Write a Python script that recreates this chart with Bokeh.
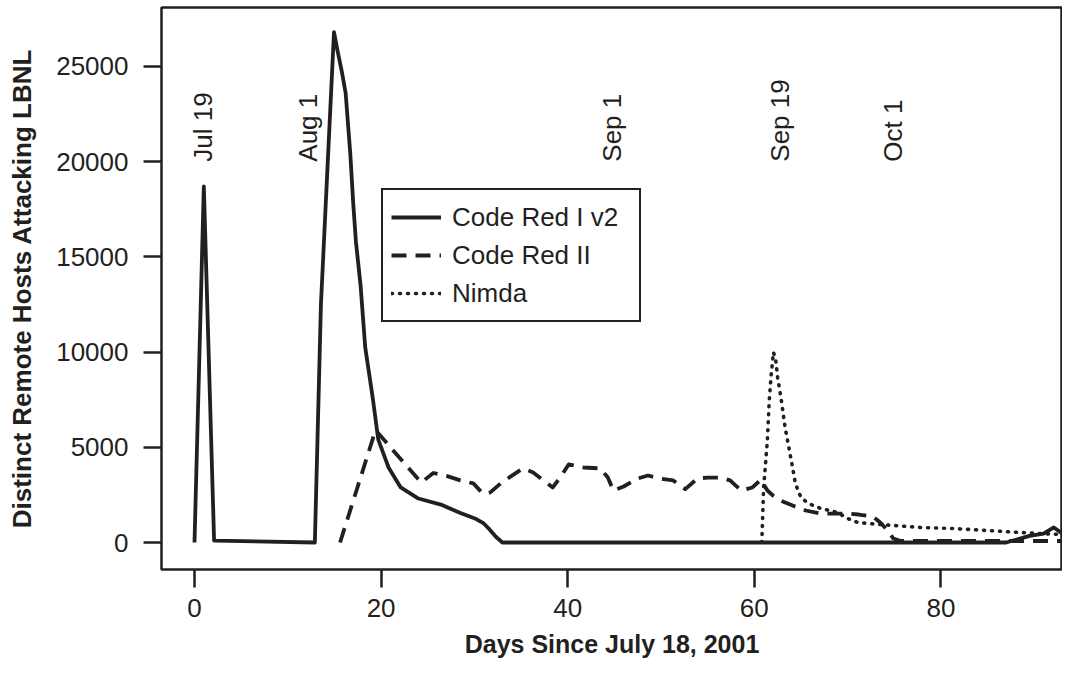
from bokeh.plotting import figure
from bokeh.models import Range1d, FixedTicker, Legend, LegendItem, ColumnDataSource
from bokeh.core.properties import value
from bokeh.embed import file_html
from bokeh.resources import INLINE
from math import pi

# ---- data ----
crI_days = [0, 1.0, 2.1, 12.9, 13.55, 14.95, 15.3, 15.8, 16.2, 16.45, 16.7, 17.0, 17.3, 17.8,
            18.3, 19.1, 19.7, 20.8, 22.1, 24.0, 26.4, 28.5, 30.2, 31.0, 31.6, 32.3, 33.0,
            87.0, 89.5, 91.0, 92.1, 93.3]
crI_hosts = [0, 18700, 100, 0, 12500, 26800, 25900, 24700, 23600, 22000, 20400, 17900, 15800, 13500,
             10240, 7600, 5400, 3940, 2890, 2310, 1990, 1550, 1230, 1000, 700, 300, 0,
             0, 350, 470, 790, 370]

crII_days = [15.6, 19.4, 24.3, 25.6, 27.0, 28.5, 29.9, 30.9, 31.7, 32.8, 33.9, 35.2, 36.3,
             37.4, 38.4, 39.4, 40.1, 41.7, 43.5, 44.3, 44.9, 46.0, 47.5, 48.6, 49.9, 51.3,
             52.6, 53.9, 55.0, 56.4, 57.4, 58.6, 59.8, 60.7, 61.4, 62.0, 62.8, 64.1, 65.5,
             67.1, 68.5, 70.0, 71.2, 72.7, 73.5, 74.3, 74.9, 75.7, 93.3]
crII_hosts = [0, 5900, 3150, 3650, 3500, 3260, 3100, 2570, 2630, 3100, 3470, 3890, 3680,
              3260, 2890, 3570, 4100, 3940, 3890, 3410, 2730, 2940, 3360, 3520, 3360, 3260,
              2800, 3360, 3410, 3410, 3260, 2730, 2890, 3300, 2730, 2470, 2210, 1940, 1680,
              1520, 1520, 1520, 1470, 1365, 1050, 630, 210, 80, 80]

nimda_days = [60.8, 61.0, 61.4, 61.6, 61.8, 62.05, 62.3, 62.5, 62.9, 63.3, 63.7, 64.1, 64.4,
              65.0, 65.8, 67.1, 68.9, 70.0, 71.1, 73.5, 77.8, 81.3, 85.0, 88.5, 90.7, 92.1, 93.3]
nimda_hosts = [0, 2890, 5360, 7460, 8770, 10000, 9560, 8670, 7460, 6040, 4990, 3940, 3100,
               2360, 2050, 1790, 1580, 1260, 1050, 945, 790, 735, 630, 525, 470, 440, 420]

date_labels = ["Jul 19", "Aug 1", "Sep 1", "Sep 19", "Oct 1"]
date_label_days = [0.96, 12.2, 44.8, 62.8, 74.9]
date_label_level = [20000, 20000, 20000, 20000, 20000]

x_ticks = [0, 20, 40, 60, 80]
y_ticks = [0, 5000, 10000, 15000, 20000, 25000]

INK = "#231f20"
FONT = "Liberation Sans"

p = figure(width=1062, height=673,
           x_range=Range1d(-3.537, 93.03), y_range=Range1d(-1418, 28098),
           output_backend="svg", toolbar_location=None,
           min_border_left=161, min_border_right=0, min_border_top=7, min_border_bottom=104,
           background_fill_color="white", border_fill_color="white")

p.xgrid.visible = False
p.ygrid.visible = False
p.outline_line_color = INK
p.outline_line_width = 2.5

r1 = p.line(crI_days, crI_hosts, line_color=INK, line_width=3.8, line_join="round")
r2 = p.line(crII_days, crII_hosts, line_color=INK, line_width=3.8, line_dash="15 9",
            line_join="round")
r3 = p.line(nimda_days, nimda_hosts, line_color=INK, line_width=3.6, line_dash="1 7",
            line_cap="round", line_join="round")

src = ColumnDataSource(dict(x=date_label_days, y=date_label_level, t=date_labels))
p.text(x="x", y="y", text="t", source=src, angle=pi / 2, text_align="left",
       text_baseline="middle", text_font=value(FONT), text_font_size="26px", text_color=INK)

for ax, ticks in ((p.xaxis, x_ticks), (p.yaxis, y_ticks)):
    ax.ticker = FixedTicker(ticks=ticks)
    ax.minor_tick_line_color = None
    ax.axis_line_color = None
    ax.major_tick_line_color = INK
    ax.major_tick_line_width = 2.5
    ax.major_tick_in = 0
    ax.major_tick_out = 18
    ax.major_label_text_font = FONT
    ax.major_label_text_font_size = "26px"
    ax.major_label_text_color = INK
    ax.axis_label_text_font = FONT
    ax.axis_label_text_font_style = "bold"
    ax.axis_label_text_color = INK

p.xaxis.axis_label = "Days Since July 18, 2001"
p.xaxis.axis_label_text_font_size = "25px"
p.xaxis.major_label_standoff = 11
p.xaxis.axis_label_standoff = 10

p.yaxis.axis_label = "Distinct Remote Hosts Attacking LBNL"
p.yaxis.axis_label_text_font_size = "26px"
p.yaxis.major_label_standoff = 15
p.yaxis.axis_label_standoff = 16

legend = Legend(items=[LegendItem(label="Code Red I v2", renderers=[r1]),
                       LegendItem(label="Code Red II", renderers=[r2]),
                       LegendItem(label="Nimda", renderers=[r3])],
                location=(220, 247), margin=0, padding=8, spacing=0,
                glyph_width=50, glyph_height=38, label_height=38, label_width=179,
                label_standoff=11, label_text_font=FONT, label_text_font_size="26px",
                label_text_color=INK, border_line_color=INK, border_line_width=2.5,
                border_line_alpha=1.0,
                background_fill_color="white", background_fill_alpha=1.0)
p.add_layout(legend)

open("out.html", "w").write(file_html(p, INLINE))
